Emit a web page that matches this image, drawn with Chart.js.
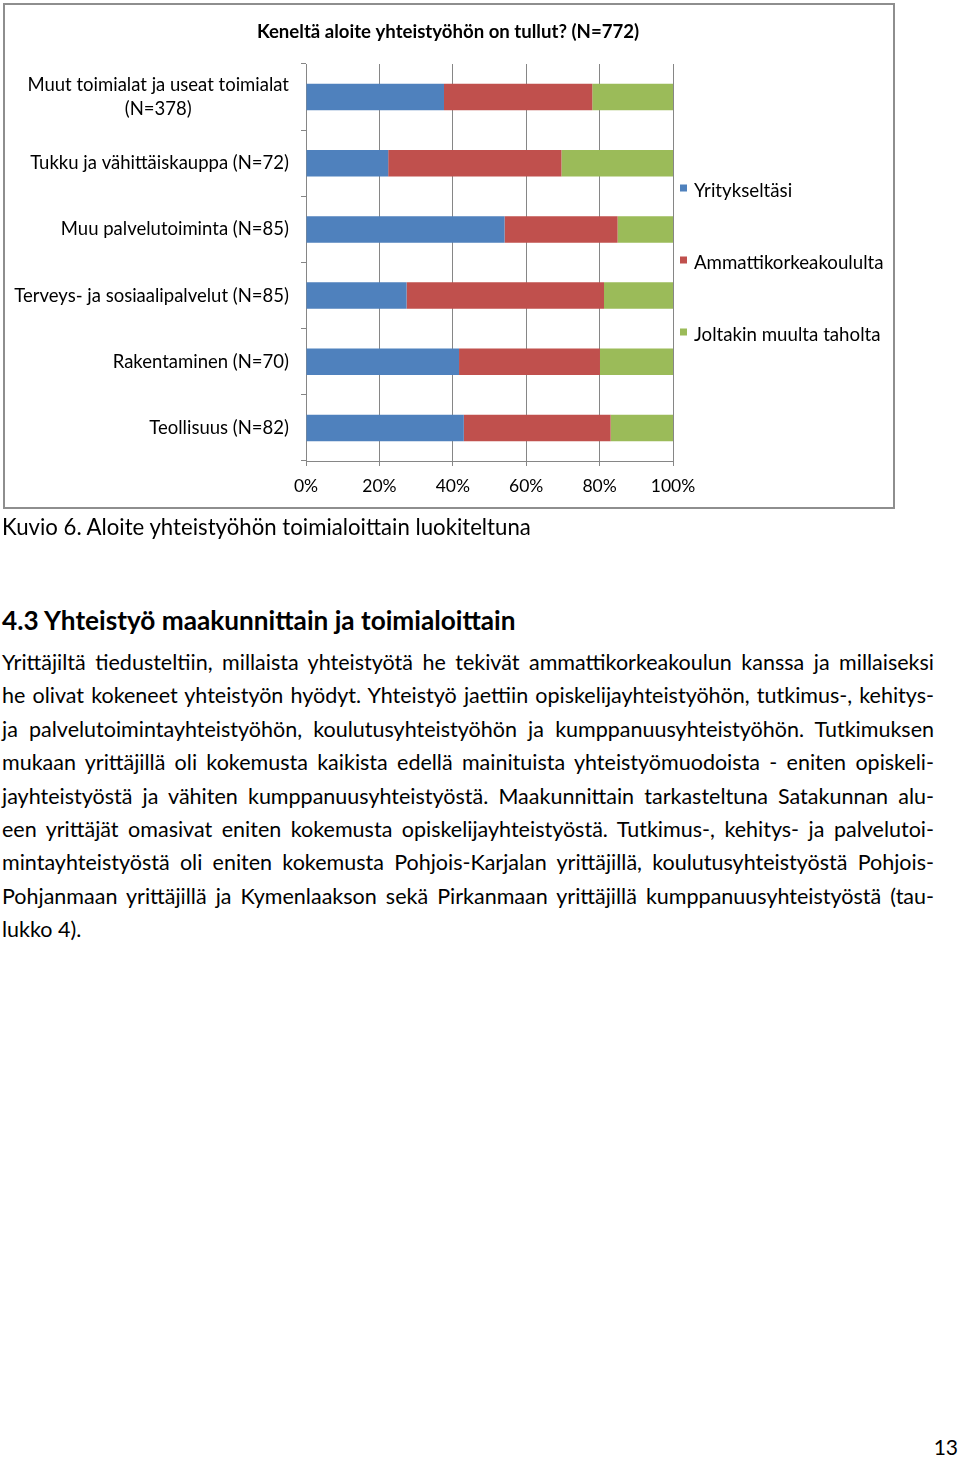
<!DOCTYPE html>
<html lang="fi">
<head>
<meta charset="utf-8">
<script src="https://cdn.jsdelivr.net/npm/chart.js@4"></script>
<style>
  body {
    margin: 0;
    width: 960px;
    height: 1459px;
    background: #fff;
    color: #000;
    font-family: Lato, "Open Sans", sans-serif;
    position: relative;
    overflow: hidden;
  }
  #frame {
    position: absolute;
    left: 3px;
    top: 3px;
    width: 888px;
    height: 502px;
    border: 2px solid #8e8e8e;
  }
  #wrap {
    position: absolute;
    left: 0;
    top: 0;
    width: 960px;
    height: 515px;
  }
  .caption {
    position: absolute;
    left: 2px;
    top: 513px;
    font-size: 22.2px;
    line-height: 28px;
  }
  .heading {
    position: absolute;
    left: 2px;
    top: 603px;
    font-size: 26.2px;
    font-weight: bold;
    line-height: 34px;
  }
  .body-text {
    position: absolute;
    left: 2px;
    top: 646px;
    width: 932px;
    font-size: 21.5px;
    line-height: 33.4px;
  }
  .body-text div {
    white-space: nowrap;
    text-align: justify;
    text-align-last: justify;
  }
  .body-text.measure div,
  .body-text div.last {
    text-align: left;
    text-align-last: left;
  }
  .page-no {
    position: absolute;
    right: 2px;
    top: 1433px;
    font-size: 21px;
    line-height: 28px;
  }
</style>
</head>
<body>
<div id="frame"></div>
<div id="wrap"><canvas id="chart" width="960" height="515"></canvas></div>

<div class="caption">Kuvio 6. Aloite yhteistyöhön toimialoittain luokiteltuna</div>
<div class="heading">4.3 Yhteistyö maakunnittain ja toimialoittain</div>
<div class="body-text" id="bodyText">
  <div><span>Yrittäjiltä tiedusteltiin, millaista yhteistyötä he tekivät ammattikorkeakoulun kanssa ja millaiseksi</span></div>
  <div><span>he olivat kokeneet yhteistyön hyödyt. Yhteistyö jaettiin opiskelijayhteistyöhön, tutkimus-, kehitys-</span></div>
  <div><span>ja palvelutoimintayhteistyöhön, koulutusyhteistyöhön ja kumppanuusyhteistyöhön. Tutkimuksen</span></div>
  <div><span>mukaan yrittäjillä oli kokemusta kaikista edellä mainituista yhteistyömuodoista - eniten opiskeli-</span></div>
  <div><span>jayhteistyöstä ja vähiten kumppanuusyhteistyöstä. Maakunnittain tarkasteltuna Satakunnan alu-</span></div>
  <div><span>een yrittäjät omasivat eniten kokemusta opiskelijayhteistyöstä. Tutkimus-, kehitys- ja palvelutoi-</span></div>
  <div><span>mintayhteistyöstä oli eniten kokemusta Pohjois-Karjalan yrittäjillä, koulutusyhteistyöstä Pohjois-</span></div>
  <div><span>Pohjanmaan yrittäjillä ja Kymenlaakson sekä Pirkanmaan yrittäjillä kumppanuusyhteistyöstä (tau-</span></div>
  <div class="last"><span>lukko 4).</span></div>
</div>
<div class="page-no">13</div>

<script>
// toimialat (top to bottom)
const categories = [
    ['Muut toimialat ja useat toimialat', '(N=378)'],
    'Tukku ja vähittäiskauppa (N=72)',
    'Muu palvelutoiminta (N=85)',
    'Terveys- ja sosiaalipalvelut (N=85)',
    'Rakentaminen (N=70)',
    'Teollisuus (N=82)'
];

// shares in %
const yritykseltasi = [37.6, 22.4, 54.1, 27.4, 41.7, 43.0];
const ammattikorkeakoululta = [40.4, 47.2, 30.8, 53.8, 38.4, 40.0];
const muultaTaholta = [22.0, 30.4, 15.1, 18.8, 19.9, 17.0];

const seriesNames = ['Yritykseltäsi', 'Ammattikorkeakoululta', 'Joltakin muulta taholta'];
const seriesColors = ['#4f81bd', '#c0504d', '#9bbb59'];

const chartTitle = 'Keneltä aloite yhteistyöhön on tullut? (N=772)';
const xTickStep = 20;

const FONT = 'Lato, "Open Sans", sans-serif';
const GRID = '#868686';

// shrink the paragraph font a little if a line would not fit the column
(function fitBody() {
    const box = document.getElementById('bodyText');
    let size = 21.5;
    box.classList.add('measure');
    const widest = () => Math.max(...[...box.querySelectorAll('span')].map(s => s.getBoundingClientRect().width));
    while (widest() > 930 && size > 16) {
        size -= 0.25;
        box.style.fontSize = size + 'px';
    }
    box.classList.remove('measure');
})();

// title, category labels and the legend are drawn by hand
const sideText = {
    id: 'sideText',
    afterDraw(chart) {
        const ctx = chart.ctx;
        const area = chart.chartArea;
        const yScale = chart.scales.y;
        ctx.save();
        ctx.fillStyle = '#000';
        ctx.textBaseline = 'middle';

        ctx.font = 'bold 18.6px ' + FONT;
        ctx.textAlign = 'center';
        ctx.fillText(chartTitle, 448, 32);

        ctx.font = '18.5px ' + FONT;
        const right = area.left - 17;
        chart.data.labels.forEach((label, i) => {
            const cy = yScale.getPixelForValue(i);
            if (Array.isArray(label)) {
                const w = Math.max(...label.map(l => ctx.measureText(l).width));
                ctx.textAlign = 'center';
                label.forEach((l, j) => {
                    ctx.fillText(l, right - w / 2, cy + (j - (label.length - 1) / 2) * 24);
                });
            } else {
                ctx.textAlign = 'right';
                ctx.fillText(label, right, cy);
            }
        });

        ctx.font = '18.7px ' + FONT;
        const mid = (area.top + area.bottom) / 2;
        chart.data.datasets.forEach((ds, i) => {
            const ly = mid + (i - 1) * 72;
            ctx.fillStyle = ds.backgroundColor;
            ctx.fillRect(area.right + 7, ly - 6, 7, 7);
            ctx.fillStyle = '#000';
            ctx.textAlign = 'left';
            ctx.fillText(ds.label, area.right + 21, ly);
        });
        ctx.restore();
    }
};

const seriesData = [yritykseltasi, ammattikorkeakoululta, muultaTaholta];

new Chart(document.getElementById('chart'), {
    type: 'bar',
    data: {
        labels: categories,
        datasets: seriesNames.map((name, i) => ({
            label: name,
            data: seriesData[i],
            backgroundColor: seriesColors[i],
            borderWidth: 0,
            barPercentage: 0.4,
            categoryPercentage: 1
        }))
    },
    options: {
        indexAxis: 'y',
        responsive: false,
        animation: false,
        layout: {
            padding: { top: 64, right: 287, bottom: 14, left: 0 }
        },
        plugins: {
            legend: { display: false },
            title: { display: false },
            tooltip: { enabled: false }
        },
        scales: {
            x: {
                stacked: true,
                min: 0,
                max: 100,
                ticks: {
                    stepSize: xTickStep,
                    callback: v => v + '%',
                    color: '#000',
                    font: { family: FONT, size: 17.5 },
                    padding: 10,
                    maxRotation: 0
                },
                grid: { color: GRID, tickLength: 5 },
                border: { color: GRID },
                afterFit: s => { s.height = 40; }
            },
            y: {
                stacked: true,
                ticks: { display: false },
                grid: { drawOnChartArea: false, color: GRID, tickLength: 5 },
                border: { color: GRID },
                afterFit: s => { s.width = 306; }
            }
        }
    },
    plugins: [sideText]
});
</script>
</body>
</html>
